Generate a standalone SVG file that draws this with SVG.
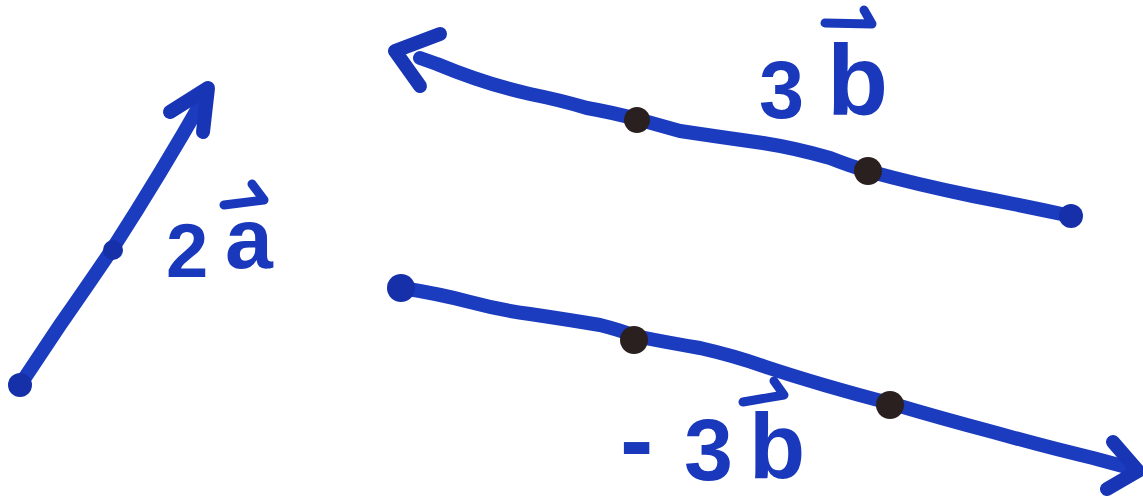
<svg xmlns="http://www.w3.org/2000/svg" width="1143" height="501" viewBox="0 0 1143 501">
  <style>
    .ink { fill: none; stroke: #1b3cbf; stroke-width: 14; stroke-linecap: round; stroke-linejoin: round; }
    .head { fill: none; stroke: #1735b5; stroke-width: 14; stroke-linecap: round; stroke-linejoin: round; }
    .end { fill: #1530a8; }
    .pt { fill: #2b2020; }
    .lbl { font-family: "Liberation Sans", Arial, sans-serif; font-weight: bold; fill: #1a38bb; }
    .vbar { fill: none; stroke: #1a38bb; stroke-width: 9; stroke-linecap: round; stroke-linejoin: round; }
  </style>
  <rect width="1143" height="501" fill="#ffffff"/>

  <g id="connectors">
    <!-- 2a vector -->
    <path class="ink" d="M20,385 L60,325 Q90,282 113,248 Q160,175 205,96"/>
    <path class="head" d="M170,112 L208,88 L203,132"/>
    <!-- 3b vector -->
    <path class="ink" d="M1071,216 Q1020,205 973,196 Q915,184 868,171 Q850,166 830,158 Q795,148 763,143 Q720,137 680,131 Q655,124 637,119 Q610,112 587,108 Q560,100 530,94 Q485,84 437,64 L420,58"/>
    <path class="head" d="M440,34 L395,51 L420,86"/>
    <!-- -3b vector -->
    <path class="ink" d="M402,288 Q440,294 470,302 Q500,310 530,314 Q570,320 600,325 Q620,330 635,336 Q670,343 700,348 Q735,356 763,366 Q820,385 893,404 Q940,418 993,432 Q1050,448 1093,458 L1130,468"/>
    <path class="head" d="M1113,442 L1138,471 L1107,489"/>
  </g>

  <g id="node-2a">
    <circle class="end" cx="20" cy="385" r="12"/>
    <circle class="end" cx="113" cy="250" r="10"/>
  </g>

  <g id="node-3b">
    <circle class="pt" cx="637" cy="120" r="13"/>
    <circle class="pt" cx="868" cy="171" r="14"/>
    <circle class="end" cx="1071" cy="216" r="12"/>
  </g>

  <g id="node-neg3b">
    <circle class="end" cx="401" cy="288" r="14"/>
    <circle class="pt" cx="634" cy="340" r="14"/>
    <circle class="pt" cx="890" cy="405" r="14"/>
  </g>

  <g id="label-2a">
    <text class="lbl"><tspan x="166" y="277" font-size="76">2</tspan><tspan x="225" y="268" font-size="86">a</tspan></text>
    <path class="vbar" d="M224,205 L264,200 L252,184"/>
  </g>

  <g id="label-3b">
    <text class="lbl"><tspan x="759" y="118" font-size="81">3</tspan><tspan x="827" y="115" font-size="100">b</tspan></text>
    <path class="vbar" d="M825,23 L872,24 L864,10"/>
  </g>

  <g id="label-neg3b">
    <text class="lbl"><tspan x="620" y="474" font-size="100">-</tspan><tspan x="684" y="480" font-size="88">3</tspan><tspan x="749" y="478" font-size="92">b</tspan></text>
    <path class="vbar" d="M743,402 L784,395 L774,381"/>
  </g>
</svg>
